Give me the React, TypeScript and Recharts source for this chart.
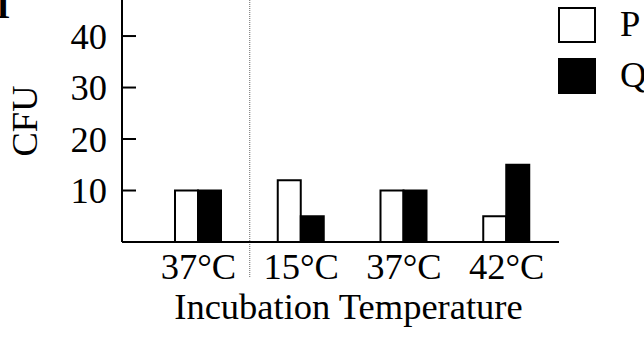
import { Bar, BarChart, Label, ReferenceLine, XAxis, YAxis } from 'recharts';

// ============================================================
// データ
// ============================================================

const CATEGORIES = ['37°C', '15°C', '37°C', '42°C'];
const CATEGORY_KEYS = ['c0', 'c1', 'c2', 'c3'];
const P_VALUES = [10, 12, 10, 5];
const Q_VALUES = [10, 5, 10, 15];
const Y_TICKS = [10, 20, 30, 40];
const Y_DOMAIN: [number, number] = [0, 47];
const SERIES = [
  { key: 'P', name: 'P', fill: '#ffffff' },
  { key: 'Q', name: 'Q', fill: '#000000' },
];

// スタイル定数
const FONT = '"Liberation Serif", "Times New Roman", serif';
const FONT_SIZE = 36.5;
const CHART_MARGIN = { top: 0, right: 85, left: 0, bottom: 0 };

const data = CATEGORY_KEYS.map((key, i) => ({
  key,
  label: CATEGORIES[i],
  P: P_VALUES[i],
  Q: Q_VALUES[i],
}));

// 軸の内側に目盛り線を描く
function YTick(props: any) {
  const { x, y, payload } = props;
  return (
    <g>
      <line x1={x} x2={x + 14} y1={y} y2={y} stroke="#000" strokeWidth={2} />
      <text
        x={x - 15}
        y={y}
        textAnchor="end"
        dominantBaseline="central"
        fontFamily={FONT}
        fontSize={FONT_SIZE}
        fill="#000"
      >
        {payload.value}
      </text>
    </g>
  );
}

function YLabel(props: any) {
  const vb = props.viewBox ?? { x: 0, y: 0, width: 122, height: 242 };
  const cx = vb.x + 24;
  const cy = vb.y + vb.height / 2;
  return (
    <text
      x={cx}
      y={cy}
      transform={`rotate(-90, ${cx}, ${cy})`}
      textAnchor="middle"
      dominantBaseline="central"
      fontFamily={FONT}
      fontSize={FONT_SIZE}
      fill="#000"
    >
      CFU
    </text>
  );
}

// 区切り線（目盛りラベルの下まで伸ばす）
function Divider(props: any) {
  const { x1, y1, x2, y2 } = props;
  const top = Math.min(y1, y2);
  const bottom = Math.max(y1, y2);
  return (
    <line
      x1={x1}
      y1={top}
      x2={x2}
      y2={bottom + 36}
      stroke="#666"
      strokeWidth={1}
      strokeDasharray="1 1"
    />
  );
}

export default function App() {
  return (
    <div
      style={{
        position: 'absolute',
        left: 0,
        top: 0,
        width: 644,
        height: 337,
        background: '#fff',
        overflow: 'hidden',
        fontFamily: FONT,
      }}
    >
      <div
        style={{
          position: 'absolute',
          left: -4,
          top: -12,
          fontSize: FONT_SIZE,
          fontWeight: 'bold',
          lineHeight: 1,
        }}
      >
        I
      </div>
      <BarChart
        width={644}
        height={337}
        data={data}
        margin={CHART_MARGIN}
        barGap={0}
        barCategoryGap={0}
      >
        <XAxis
          dataKey="key"
          height={95}
          padding={{ left: 25, right: 1 }}
          tickFormatter={(_v: string, i: number) => CATEGORIES[i]}
          tick={{ fontFamily: FONT, fontSize: FONT_SIZE, fill: '#000' }}
          tickLine={false}
          tickSize={0}
          tickMargin={11}
          axisLine={{ stroke: '#000', strokeWidth: 2 }}
        >
          <Label
            value="Incubation Temperature"
            position="insideBottom"
            offset={18}
            dx={8}
            style={{ fontFamily: FONT, fontSize: FONT_SIZE, fill: '#000' }}
          />
        </XAxis>
        <YAxis
          type="number"
          domain={Y_DOMAIN}
          ticks={Y_TICKS}
          width={122}
          tick={<YTick />}
          tickLine={false}
          tickSize={0}
          tickMargin={0}
          axisLine={{ stroke: '#000', strokeWidth: 2 }}
          allowDataOverflow
        >
          <Label content={<YLabel />} />
        </YAxis>
        <ReferenceLine
          x="c1"
          position="start"
          stroke="#666"
          shape={<Divider />}
        />
        {SERIES.map((s) => (
          <Bar
            key={s.key}
            dataKey={s.key}
            name={s.name}
            fill={s.fill}
            stroke="#000"
            strokeWidth={2}
            barSize={23}
            isAnimationActive={false}
          />
        ))}
      </BarChart>
      <div
        style={{
          position: 'absolute',
          left: 558,
          top: 7,
          fontSize: FONT_SIZE,
          color: '#000',
        }}
      >
        {SERIES.map((s) => (
          <div
            key={s.key}
            style={{ display: 'flex', alignItems: 'center', height: 51 }}
          >
            <span
              style={{
                display: 'inline-block',
                width: 34,
                height: 32,
                background: s.fill,
                border: '2px solid #000',
                boxSizing: 'content-box',
                marginTop: -16,
              }}
            />
            <span style={{ marginLeft: 24, marginTop: -16, lineHeight: 1 }}>
              {s.name}
            </span>
          </div>
        ))}
      </div>
    </div>
  );
}
